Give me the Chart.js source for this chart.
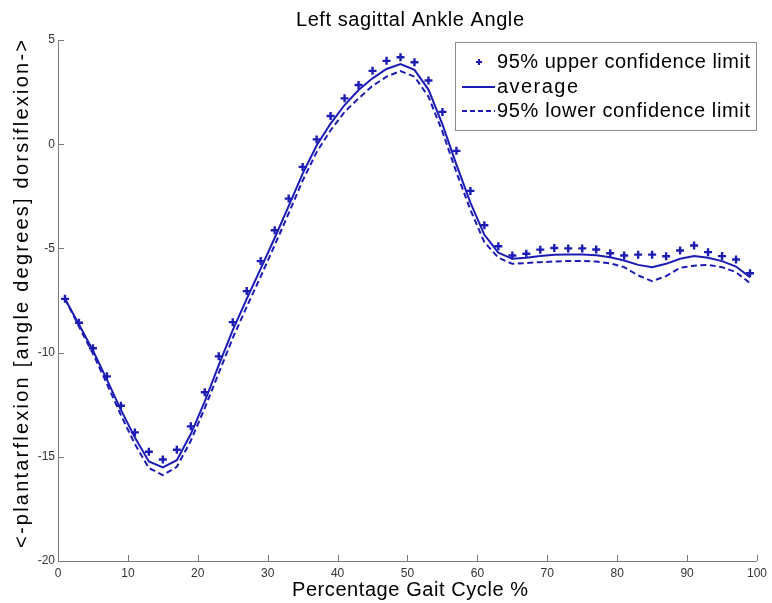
<!DOCTYPE html>
<html lang="en">
<head>
    <meta charset="UTF-8">
    <title>Left sagittal Ankle Angle</title>
    <script src="https://cdn.jsdelivr.net/npm/chart.js"></script>
    <style>
        body {
            margin: 0;
            background-color: #ffffff;
        }

        #chartContainer {
            width: 772px;
            height: 603px;
        }
    </style>
</head>
<body>

<div id="chartContainer">
    <canvas id="ankleChart"></canvas>
</div>

<script>
    // gait cycle percentage (sample positions)
    const pct = [1, 3, 5, 7, 9, 11, 13, 15, 17, 19, 21, 23, 25, 27, 29, 31, 33, 35, 37, 39,
                 41, 43, 45, 47, 49, 51, 53, 55, 57, 59, 61, 63, 65, 67, 69, 71, 73, 75, 77, 79,
                 81, 83, 85, 87, 89, 91, 93, 95, 97, 99];

    const upperLimit = [-7.42, -8.57, -9.79, -11.14, -12.55, -13.83, -14.76, -15.13, -14.66, -13.54,
                        -11.9, -10.18, -8.54, -7.05, -5.61, -4.13, -2.61, -1.09, 0.23, 1.35,
                        2.2, 2.84, 3.52, 4.0, 4.17, 3.93, 3.06, 1.55, -0.32, -2.24,
                        -3.89, -4.9, -5.34, -5.26, -5.06, -4.98, -5.0, -5.0, -5.05, -5.23,
                        -5.34, -5.3, -5.3, -5.38, -5.1, -4.86, -5.18, -5.37, -5.53, -6.19];

    const average = [-7.42, -8.65, -9.9, -11.3, -12.75, -14.07, -15.22, -15.51, -15.16, -13.91,
                     -12.34, -10.6, -8.92, -7.42, -5.97, -4.5, -2.97, -1.41, -0.06, 0.99,
                     1.88, 2.6, 3.16, 3.61, 3.85, 3.57, 2.62, 0.95, -0.98, -2.8,
                     -4.35, -5.2, -5.5, -5.45, -5.37, -5.3, -5.29, -5.29, -5.33, -5.42,
                     -5.58, -5.79, -5.9, -5.74, -5.5, -5.37, -5.45, -5.61, -5.87, -6.38];

    const lowerLimit = [-7.42, -8.75, -10.05, -11.5, -13.0, -14.39, -15.54, -15.88, -15.48, -14.23,
                        -12.66, -10.98, -9.3, -7.8, -6.35, -4.85, -3.32, -1.75, -0.38, 0.67,
                        1.55, 2.2, 2.8, 3.24, 3.51, 3.24, 2.28, 0.6, -1.35, -3.15,
                        -4.7, -5.45, -5.74, -5.7, -5.66, -5.63, -5.6, -5.6, -5.63, -5.72,
                        -5.9, -6.3, -6.57, -6.33, -5.93, -5.83, -5.79, -5.9, -6.14, -6.67];

    const xTicks = [0, 10, 20, 30, 40, 50, 60, 70, 80, 90, 100];
    const yTicks = [-20, -15, -10, -5, 0, 5];

    const chartTitle = 'Left sagittal Ankle Angle';
    const xTitle = 'Percentage Gait Cycle %';
    const yTitle = '<-plantarflexion [angle degrees] dorsiflexion->';

    const blue = '#1c1cb4';
    const fontName = '"Liberation Sans", Arial, sans-serif';

    const toPoints = (vals) => pct.map((x, i) => ({ x: x, y: vals[i] }));

    // text stretched to the width the original renderer gave it
    function wideText(c, text, x, y, size, width) {
        c.font = size + 'px ' + fontName;
        c.letterSpacing = '0px';
        const w = c.measureText(text).width;
        const ls = Math.max(0, (width - w) / (text.length - 1));
        c.letterSpacing = ls + 'px';
        c.fillText(text, x, y);
        c.letterSpacing = '0px';
    }

    // titles, inward tick marks and the legend box, drawn after the chart
    const matlabBits = {
        id: 'matlabBits',
        afterDraw(chart) {
            const c = chart.ctx;
            const area = chart.chartArea;
            const xs = chart.scales.x;
            const ys = chart.scales.y;

            c.save();
            c.strokeStyle = '#7a7a7a';
            c.lineWidth = 1;
            c.beginPath();
            xTicks.forEach(t => {
                const px = Math.round(xs.getPixelForValue(t)) + 0.5;
                c.moveTo(px, area.bottom);
                c.lineTo(px, area.bottom - 6);
            });
            yTicks.forEach(t => {
                const py = Math.round(ys.getPixelForValue(t)) + 0.5;
                c.moveTo(area.left, py);
                c.lineTo(area.left + 6, py);
            });
            c.stroke();

            // titles
            c.fillStyle = '#000000';
            c.textAlign = 'left';
            c.textBaseline = 'middle';
            wideText(c, chartTitle, 296, 20, 20, 228);
            wideText(c, xTitle, 292, 590, 20, 236);
            c.save();
            c.translate(22, 548);
            c.rotate(-Math.PI / 2);
            wideText(c, yTitle, 0, 0, 20, 508);
            c.restore();

            // legend
            const bx = 455, by = 42, bw = 301, bh = 88;
            c.fillStyle = '#ffffff';
            c.fillRect(bx, by, bw, bh);
            c.strokeStyle = '#8a8a8a';
            c.strokeRect(bx + 0.5, by + 0.5, bw, bh);

            const rows = [62, 87, 111];
            const legendWidths = [253, 81, 253];
            c.fillStyle = '#000000';
            chart.data.datasets.forEach((ds, i) => {
                wideText(c, ds.label, 497, rows[i], 20, legendWidths[i]);
            });

            c.strokeStyle = blue;
            c.lineWidth = 2;
            c.beginPath();
            c.moveTo(476, rows[0]);
            c.lineTo(482, rows[0]);
            c.moveTo(479, rows[0] - 3);
            c.lineTo(479, rows[0] + 3);
            c.stroke();

            c.beginPath();
            c.moveTo(462, rows[1]);
            c.lineTo(495, rows[1]);
            c.stroke();

            c.setLineDash([5, 3]);
            c.beginPath();
            c.moveTo(462, rows[2]);
            c.lineTo(495, rows[2]);
            c.stroke();
            c.restore();
        }
    };

    const ctx = document.getElementById('ankleChart').getContext('2d');
    new Chart(ctx, {
        type: 'line',
        data: {
            datasets: [
                {
                    label: '95% upper confidence limit',
                    data: toPoints(upperLimit),
                    showLine: false,
                    pointStyle: 'cross',
                    pointRadius: 4,
                    pointBorderWidth: 2.4,
                    borderColor: blue,
                    backgroundColor: blue
                },
                {
                    label: 'average',
                    data: toPoints(average),
                    borderColor: blue,
                    borderWidth: 2,
                    pointRadius: 0,
                    tension: 0
                },
                {
                    label: '95% lower confidence limit',
                    data: toPoints(lowerLimit),
                    borderColor: blue,
                    borderWidth: 2,
                    borderDash: [6, 3.5],
                    pointRadius: 0,
                    tension: 0
                }
            ]
        },
        options: {
            responsive: true,
            maintainAspectRatio: false,
            animation: false,
            layout: {
                padding: { left: 0, right: 10, top: 40, bottom: 0 }
            },
            plugins: {
                legend: { display: false },
                tooltip: { enabled: false },
                title: { display: false }
            },
            scales: {
                x: {
                    type: 'linear',
                    min: 0,
                    max: 100,
                    afterBuildTicks: (scale) => { scale.ticks = xTicks.map(v => ({ value: v })); },
                    afterFit: (scale) => { scale.height = 42; },
                    grid: { display: false, drawTicks: false },
                    border: { display: true, color: '#7a7a7a', width: 1 },
                    ticks: {
                        color: '#333333',
                        font: { family: fontName, size: 12 },
                        padding: 5,
                        maxRotation: 0
                    }
                },
                y: {
                    type: 'linear',
                    min: -20,
                    max: 5,
                    afterBuildTicks: (scale) => { scale.ticks = yTicks.map(v => ({ value: v })); },
                    afterFit: (scale) => { scale.width = 58; },
                    grid: { display: false, drawTicks: false },
                    border: { display: true, color: '#7a7a7a', width: 1 },
                    ticks: {
                        color: '#333333',
                        font: { family: fontName, size: 12 },
                        padding: 3
                    }
                }
            }
        },
        plugins: [matlabBits]
    });
</script>

</body>
</html>
